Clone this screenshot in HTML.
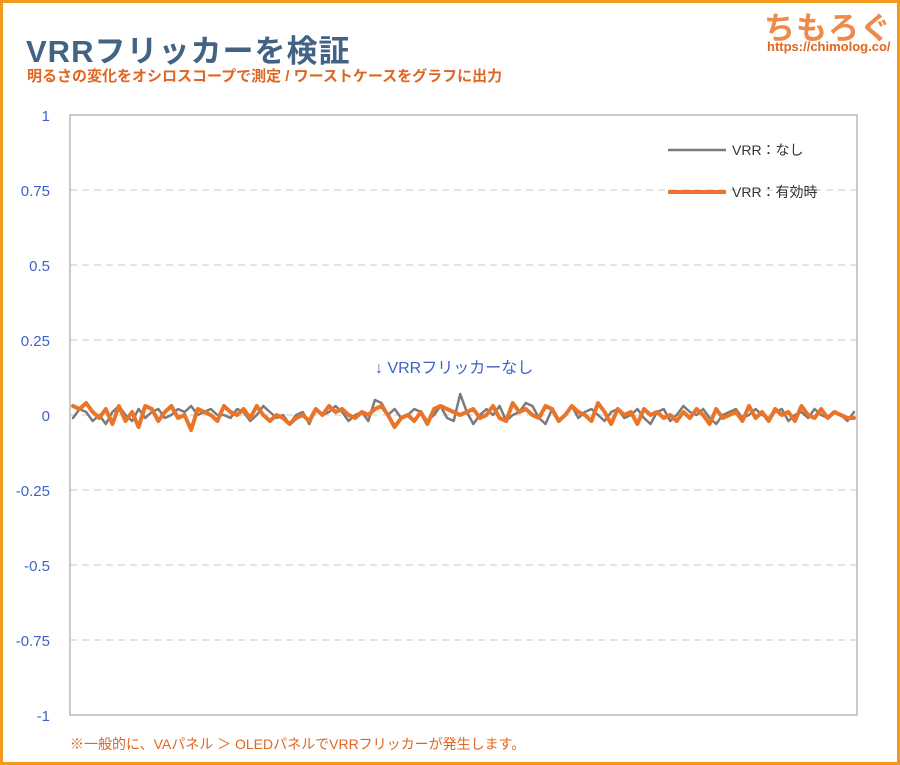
<!DOCTYPE html>
<html><head><meta charset="utf-8">
<style>
html,body{margin:0;padding:0;}
body{width:900px;height:765px;position:relative;overflow:hidden;background:#fff;font-family:"Liberation Sans","Noto Sans CJK JP",sans-serif;}
#frame{position:absolute;left:0;top:0;width:894px;height:759px;border:3px solid #f39a1e;}
#title{position:absolute;left:26px;top:26px;font-size:31px;font-weight:bold;color:#436384;letter-spacing:1px;}
#subtitle{position:absolute;left:27px;top:65px;font-size:15px;color:#e0661f;font-weight:bold;}
#logo{position:absolute;left:764px;top:3px;font-size:31px;font-weight:bold;color:#ee8a4a;letter-spacing:1px;}
#logourl{position:absolute;left:767px;top:39px;font-size:13px;font-weight:bold;color:#e0661f;}
#note{position:absolute;left:70px;top:734px;font-size:14px;color:#e0661f;}
</style></head><body>
<div id="frame"></div>
<div id="title">VRRフリッカーを検証</div>
<div id="subtitle">明るさの変化をオシロスコープで測定 / ワーストケースをグラフに出力</div>
<div id="logo">ちもろぐ</div>
<div id="logourl">https://chimolog.co/</div>
<div id="note">※一般的に、VAパネル ＞ OLEDパネルでVRRフリッカーが発生します。</div>
<svg id="chart" width="900" height="765" style="position:absolute;left:0;top:0"></svg>
<script>
const yTicks=[1,0.75,0.5,0.25,0,-0.25,-0.5,-0.75,-1];
const yTickLabels=["1","0.75","0.5","0.25","0","-0.25","-0.5","-0.75","-1"];
const seriesNames=["VRR：なし","VRR：有効時"];
const grayValues=[-0.01,0.02,0.01,-0.02,0.0,-0.03,0.01,0.03,0.0,-0.02,0.02,-0.01,0.01,0.02,-0.01,0.0,0.02,0.01,0.03,0.0,0.01,0.02,0.0,0.0,-0.01,0.02,0.01,-0.02,0.0,0.03,0.01,-0.01,0.0,-0.03,0.0,0.01,-0.03,0.02,0.0,0.01,0.03,0.01,-0.02,0.0,0.01,-0.02,0.05,0.04,0.0,0.02,-0.01,0.0,0.02,0.01,-0.02,0.0,0.03,-0.01,-0.02,0.07,0.01,-0.03,0.0,0.02,0.0,0.03,-0.02,0.0,0.01,0.04,0.03,-0.01,-0.03,0.02,-0.02,0.0,0.03,-0.01,0.01,0.02,0.0,-0.02,0.01,0.02,-0.01,0.0,0.02,-0.01,-0.03,0.01,0.02,-0.02,0.0,0.03,0.01,0.0,0.02,-0.01,-0.03,0.0,0.01,0.02,-0.01,0.0,0.02,0.0,-0.01,0.01,0.02,-0.02,0.0,0.01,-0.01,0.02,0.0,-0.01,0.01,0.0,-0.02,0.01];
const orangeValues=[0.03,0.02,0.04,0.01,-0.01,0.02,-0.03,0.03,-0.02,0.01,-0.04,0.03,0.02,-0.02,0.01,0.03,-0.01,0.0,-0.05,0.02,0.01,0.0,-0.02,0.03,0.01,0.0,0.02,-0.01,0.03,0.0,-0.02,0.0,-0.01,-0.03,-0.01,0.0,-0.02,0.02,0.0,0.03,0.01,0.02,0.0,-0.01,0.01,0.0,0.02,0.03,0.0,-0.04,-0.01,0.0,-0.02,0.01,-0.03,0.02,0.03,0.02,0.01,0.0,0.01,0.02,-0.01,0.0,0.03,-0.01,-0.02,0.04,0.01,0.02,0.0,-0.01,0.03,0.02,-0.02,0.0,0.03,0.01,0.0,-0.02,0.04,0.01,-0.03,0.02,0.0,0.01,-0.03,0.02,0.0,0.01,-0.01,0.0,-0.02,0.01,-0.01,0.02,0.0,-0.03,0.02,-0.01,0.0,0.01,-0.02,0.03,-0.01,0.01,-0.02,0.02,0.0,0.01,-0.02,0.03,0.0,-0.01,0.02,-0.01,0.01,0.0,-0.01,-0.01];
const svg=document.getElementById('chart');
const NS='http://www.w3.org/2000/svg';
const L=70,R=857,T=115,B=715;
function yScale(v){return T+(1-v)/2*(B-T);}
function xScale(i,n){return L+3+i*(R-L-6)/(n-1);}
function mk(tag,attrs){const e=document.createElementNS(NS,tag);for(const k in attrs)e.setAttribute(k,attrs[k]);svg.appendChild(e);return e;}
yTicks.forEach((v,i)=>{
 if(v!==1&&v!==-1){const g=mk('line',{x1:L,x2:R,y1:yScale(v),y2:yScale(v),stroke:'#d4d4d4','stroke-width':1.3,'stroke-dasharray':'7,5'});
 
 }
 const t=mk('text',{x:50,y:yScale(v)+6,'text-anchor':'end','font-size':15,fill:'#3f62c8'});
 t.textContent=yTickLabels[i];
 
 
});
const box=mk('rect',{x:L,y:T,width:R-L,height:B-T,fill:'none',stroke:'#b8b8b8','stroke-width':1.5});


function drawSeries(vals,color,w,name){
 const pts=vals.map((v,i)=>xScale(i,vals.length).toFixed(1)+','+yScale(v).toFixed(1)).join(' ');
 const p=mk('polyline',{points:pts,fill:'none',stroke:color,'stroke-width':w,'stroke-linejoin':'round','stroke-linecap':'round'});
 
 
}
drawSeries(grayValues,'#7a7a7a',2.5,'series-vrr-off');
drawSeries(orangeValues,'#ea7428',4,'series-vrr-on');
const colors=['#7a7a7a','#ea7428'],widths=[2.5,4];
seriesNames.forEach((n,i)=>{
 const y=150+i*42;
 const l=mk('line',{x1:668,x2:726,y1:y,y2:y,stroke:colors[i],'stroke-width':widths[i]});
 
 
 const t=mk('text',{x:732,y:y+5,'font-size':14,fill:'#333'});
 t.textContent=n;
 
 
});
const a=mk('text',{x:375,y:373,'font-size':16,fill:'#3f62c8'});
a.textContent='↓ VRRフリッカーなし';


</script>
</body></html>
